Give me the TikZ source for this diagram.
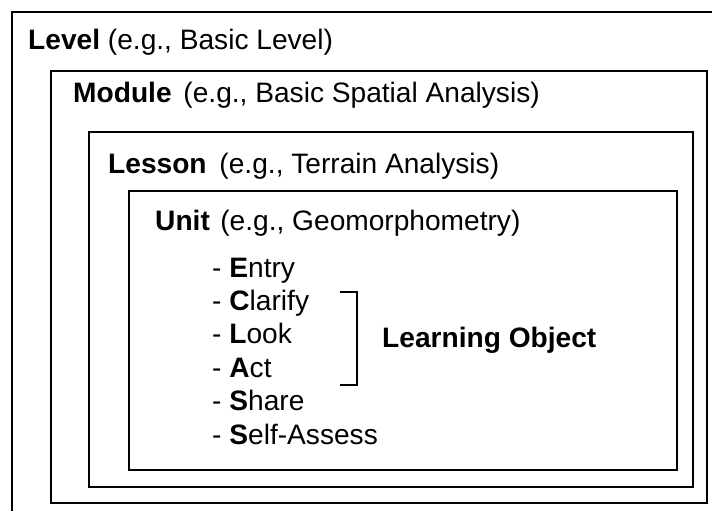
\documentclass[tikz,border=0pt]{standalone}
\usepackage{fontspec}
\setmainfont{Liberation Sans}
\usetikzlibrary{positioning}

\begin{document}
\begin{tikzpicture}[x=0.03cm, y=-0.03cm,
          frame/.style={draw=black, line width=1.7pt},
          title/.style={anchor=base west, inner sep=0pt, font=\fontsize{24}{28}\selectfont},
          item/.style={anchor=base west, inner sep=0pt, font=\fontsize{24}{28}\selectfont},
          brk/.style={draw=black, line width=1.7pt}]
        \useasboundingbox (0,0) rectangle (712,510);
        \clip (0,0) rectangle (712,510);
        % nested frames
        \draw[frame] (12,12) rectangle (760,560);
        \draw[frame] (51,71) rectangle (707,503);
        \draw[frame] (89,132) rectangle (693,487);
        \draw[frame] (129,191) rectangle (677,470);
        % titles
        \node[title] (level) at (28,50) {\textbf{Level} (e.g., Basic Level)};
        \node[title] (module) at (73,103) {\textbf{Module}\hspace{0.12cm} (e.g., Basic Spatial Analysis)};
        \node[title] (lesson) at (108,173) {\textbf{Lesson}\hspace{0.15cm} (e.g., Terrain Analysis)};
        \node[title] (unit) at (155,230) {\textbf{Unit}\hspace{0.08cm} (e.g., Geomorphometry)};
        % phases
        \node[item] (entry) at (212,277) {- \textbf{E}ntry};
        \node[item] (clarify) at (212,310.4) {- \textbf{C}larify};
        \node[item] (look) at (212,343.8) {- \textbf{L}ook};
        \node[item] (act) at (212,377.2) {- \textbf{A}ct};
        \node[item] (share) at (212,410.6) {- \textbf{S}hare};
        \node[item] (self) at (212,444) {- \textbf{S}elf-Assess};
        % learning object bracket
        \coordinate (btop) at (340,292);
        \coordinate (bbot) at (340,385);
        \draw[brk] (btop) -- ++(17,0) |- (bbot);
        \node[item] (lobj) at (382,347) {\textbf{Learning Object}};
      \end{tikzpicture}
\end{document}
